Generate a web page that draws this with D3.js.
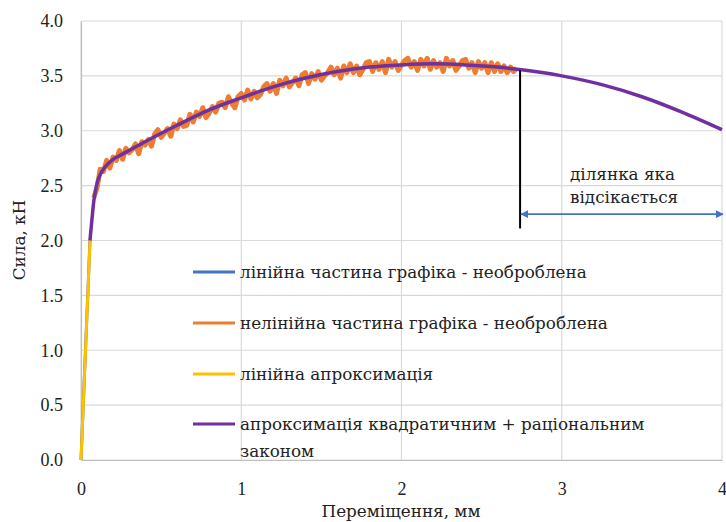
<!DOCTYPE html>
<html>
<head>
<meta charset="utf-8">
<script src="https://cdn.jsdelivr.net/npm/d3@7"></script>
<style>
  body { margin: 0; background: #fff; }
  svg text { font-family: "Liberation Serif", serif; fill: #222; }
  svg text.cyr { font-family: "DejaVu Serif", serif; }
</style>
</head>
<body>
<script>
'use strict';

// raw linear part (under the yellow fit)
const linRawX = [0, 0.02, 0.04, 0.056];
const linRawY = [0, 0.72, 1.43, 2.0];

// linear approximation
const linFitX = [0, 0.057];
const linFitY = [0, 2.02];

// raw nonlinear part, sampled every 0.02 mm from 0.08 mm
const rawStart = 0.08, rawStep = 0.02;
const rawY = [
  2.39, 2.48, 2.65, 2.63, 2.73, 2.66, 2.76, 2.73, 2.82, 2.74,
  2.84, 2.80, 2.83, 2.88, 2.79, 2.90, 2.87, 2.92, 2.86, 2.97,
  3.01, 2.94, 2.98, 3.02, 2.95, 3.06, 3.02, 3.10, 3.04, 3.05,
  3.15, 3.08, 3.17, 3.13, 3.21, 3.12, 3.16, 3.22, 3.17, 3.25,
  3.26, 3.21, 3.31, 3.25, 3.21, 3.31, 3.34, 3.28, 3.37, 3.29,
  3.36, 3.30, 3.33, 3.40, 3.43, 3.36, 3.43, 3.34, 3.46, 3.41,
  3.48, 3.40, 3.44, 3.48, 3.41, 3.51, 3.53, 3.43, 3.52, 3.47,
  3.54, 3.46, 3.50, 3.53, 3.58, 3.51, 3.57, 3.48, 3.59, 3.53,
  3.61, 3.53, 3.59, 3.51, 3.56, 3.62, 3.63, 3.54, 3.62, 3.56,
  3.63, 3.53, 3.65, 3.58, 3.63, 3.55, 3.60, 3.64, 3.66, 3.58,
  3.63, 3.55, 3.65, 3.59, 3.66, 3.56, 3.64, 3.58, 3.62, 3.54,
  3.66, 3.59, 3.64, 3.55, 3.59, 3.64, 3.65, 3.57, 3.62, 3.53,
  3.63, 3.57, 3.62, 3.53, 3.62, 3.54, 3.61, 3.54, 3.59, 3.53,
  3.58, 3.54, 3.57
];

// quadratic + rational approximation
const fitX = [0.056, 0.07, 0.08, 0.09, 0.10, 0.12, 0.15, 0.20, 0.25, 0.30, 0.40, 0.60, 0.80, 1.00, 1.20, 1.40, 1.60, 1.80, 2.00, 2.20, 2.40, 2.60, 2.75, 3.00, 3.25, 3.50, 3.75, 4.00];
const fitY = [2.00, 2.22, 2.36, 2.45, 2.52, 2.60, 2.67, 2.74, 2.78, 2.82, 2.90, 3.05, 3.19, 3.30, 3.40, 3.48, 3.54, 3.58, 3.60, 3.61, 3.60, 3.58, 3.555, 3.50, 3.42, 3.31, 3.17, 3.01];

const xTicks = [0, 1, 2, 3, 4];
const yTicks = [0, 0.5, 1.0, 1.5, 2.0, 2.5, 3.0, 3.5, 4.0];

const legendLabels = [
  ["лінійна частина графіка - необроблена"],
  ["нелінійна частина графіка - необроблена"],
  ["лінійна апроксимація"],
  ["апроксимація квадратичним + раціональним", "законом"]
];
const colors = ["#4472c4", "#ed7d31", "#ffc000", "#7030a0"];

const cutX = 2.74;        // where the curve is cut off
const cutTopY = 3.55, cutBottomY = 2.11, arrowY = 2.24;
const noteLines = ["ділянка яка", "відсікається"];

const W = 726, H = 522;
const fs = 16.8;   // size of the cyrillic texts
const svg = d3.select("body").append("svg").attr("width", W).attr("height", H);

const x = d3.scaleLinear().domain([0, 4]).range([81, 722]);
const y = d3.scaleLinear().domain([0, 4]).range([460, 21]);

// grid
svg.append("g").selectAll("line").data(yTicks).join("line")
  .attr("x1", x(0)).attr("x2", x(4))
  .attr("y1", d => y(d)).attr("y2", d => y(d))
  .attr("stroke", "#d9d9d9").attr("stroke-width", 1.2);
svg.append("g").selectAll("line").data(xTicks).join("line")
  .attr("x1", d => x(d)).attr("x2", d => x(d))
  .attr("y1", y(0)).attr("y2", y(4))
  .attr("stroke", "#d9d9d9").attr("stroke-width", 1.2);

// axes
const xAxis = svg.append("g").attr("transform", `translate(0,${y(0)})`)
  .call(d3.axisBottom(x).tickValues(xTicks).tickFormat(d3.format("d")).tickSize(0).tickPadding(22));
const yAxis = svg.append("g").attr("transform", `translate(${x(0)},0)`)
  .call(d3.axisLeft(y).tickValues(yTicks).tickFormat(d3.format(".1f")).tickSize(0).tickPadding(18));
[xAxis, yAxis].forEach(g => {
  g.attr("font-family", null);
  g.select(".domain").attr("stroke", "#bfbfbf").attr("stroke-width", 1.2);
  g.selectAll("text").attr("font-size", 18).attr("fill", "#222");
});

svg.append("text").attr("class", "cyr").attr("x", 401).attr("y", 517).attr("text-anchor", "middle")
  .attr("font-size", fs).text("Переміщення, мм");
svg.append("text").attr("class", "cyr").attr("transform", `translate(25,240) rotate(-90)`).attr("text-anchor", "middle")
  .attr("font-size", fs).text("Сила, кН");

// series
const line = d3.line().x(d => x(d[0])).y(d => y(d[1]));

const linRaw = linRawX.map((v, i) => [v, linRawY[i]]);
const linFit = linFitX.map((v, i) => [v, linFitY[i]]);
const raw = rawY.map((v, i) => [rawStart + i * rawStep, v]);
const fit = fitX.map((v, i) => [v, fitY[i]]);

svg.append("path").datum(linRaw).attr("d", line).attr("fill", "none")
  .attr("stroke", colors[0]).attr("stroke-width", 3);
svg.append("path").datum(raw).attr("d", line).attr("fill", "none")
  .attr("stroke", colors[1]).attr("stroke-width", 5).attr("stroke-linejoin", "round");
svg.append("path").datum(linFit).attr("d", line).attr("fill", "none")
  .attr("stroke", colors[2]).attr("stroke-width", 3);
svg.append("path").datum(fit).attr("d", d3.line().curve(d3.curveMonotoneX).x(d => x(d[0])).y(d => y(d[1])))
  .attr("fill", "none").attr("stroke", colors[3]).attr("stroke-width", 3.5);

// cut-off annotation
svg.append("line").attr("x1", x(cutX)).attr("x2", x(cutX))
  .attr("y1", y(cutTopY)).attr("y2", y(cutBottomY))
  .attr("stroke", "#000").attr("stroke-width", 2);

const defs = svg.append("defs");
defs.append("marker").attr("id", "ah").attr("viewBox", "0 0 10 10")
  .attr("refX", 9).attr("refY", 5).attr("markerWidth", 5).attr("markerHeight", 5)
  .attr("orient", "auto-start-reverse").attr("markerUnits", "strokeWidth")
  .append("path").attr("d", "M0,0L10,5L0,10Z").attr("fill", colors[0]);
svg.append("line").attr("x1", x(cutX) + 1).attr("x2", x(4) + 1)
  .attr("y1", y(arrowY)).attr("y2", y(arrowY))
  .attr("stroke", colors[0]).attr("stroke-width", 1.6)
  .attr("marker-start", "url(#ah)").attr("marker-end", "url(#ah)");

svg.append("text").attr("class", "cyr").attr("x", 570).attr("y", 180).attr("font-size", fs)
  .selectAll("tspan").data(noteLines).join("tspan")
  .attr("x", 570).attr("dy", (d, i) => i ? 23 : 0).text(d => d);

// legend
const legendRowY = [272, 323, 374, 424];
const lg = svg.append("g");
legendLabels.forEach((lines, i) => {
  lg.append("line").attr("x1", 193).attr("x2", 235)
    .attr("y1", legendRowY[i]).attr("y2", legendRowY[i])
    .attr("stroke", colors[i]).attr("stroke-width", 3);
  lg.append("text").attr("class", "cyr").attr("x", 240).attr("y", legendRowY[i] + 6).attr("font-size", fs)
    .selectAll("tspan").data(lines).join("tspan")
    .attr("x", 240).attr("dy", (d, j) => j ? 27 : 0).text(d => d);
});
</script>
</body>
</html>
